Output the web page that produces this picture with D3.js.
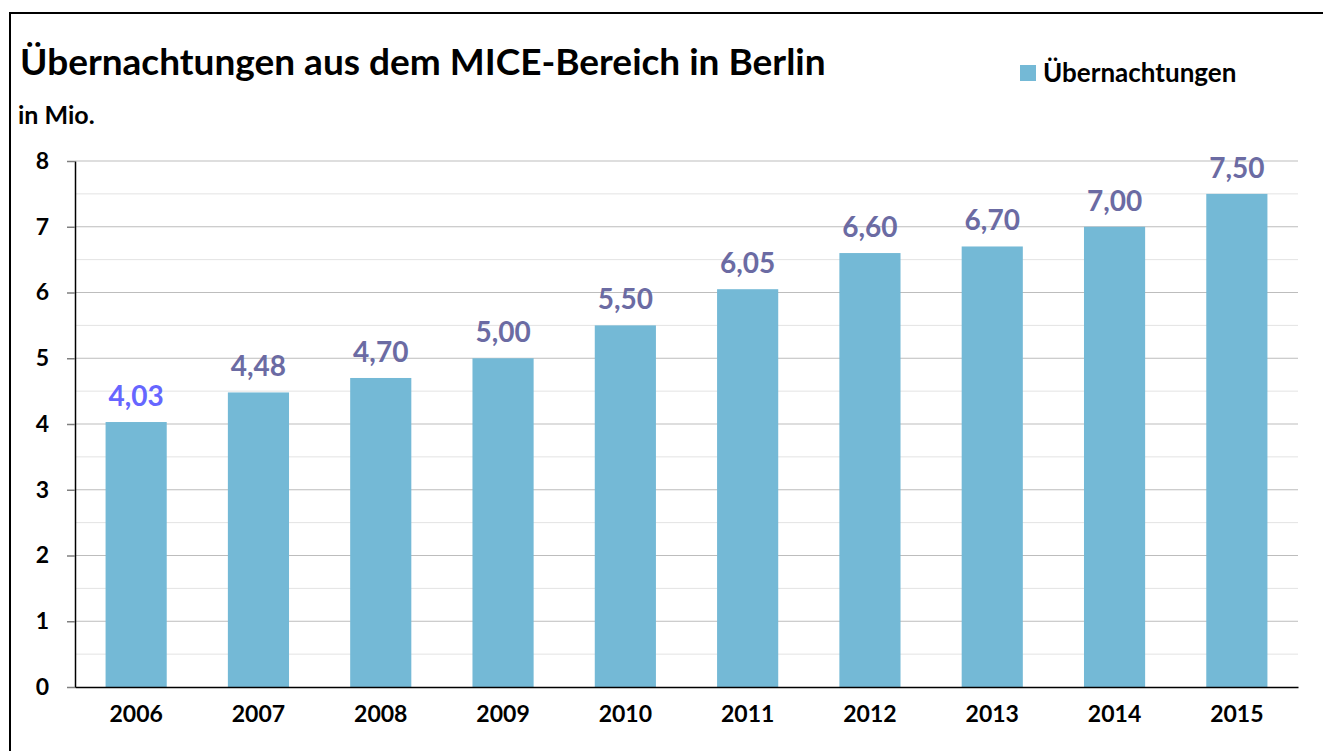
<!DOCTYPE html>
<html>
<head>
<meta charset="utf-8">
<script src="https://cdn.jsdelivr.net/npm/d3@7"></script>
<style>
  body { margin: 0; background: #fff; }
  text { font-family: Lato, "Open Sans", sans-serif; font-weight: bold; }
</style>
</head>
<body>
<div id="chart"></div>
<script>
const years = ["2006", "2007", "2008", "2009", "2010", "2011", "2012", "2013", "2014", "2015"];
const nights = [4.03, 4.48, 4.70, 5.00, 5.50, 6.05, 6.60, 6.70, 7.00, 7.50];
const labelColors = ["#6666ff", "#6b6ba3", "#6b6ba3", "#6b6ba3", "#6b6ba3", "#6b6ba3", "#6b6ba3", "#6b6ba3", "#6b6ba3", "#6b6ba3"];
const yTicks = [0, 1, 2, 3, 4, 5, 6, 7, 8];
const yMinor = [0.5, 1.5, 2.5, 3.5, 4.5, 5.5, 6.5, 7.5];

const size = { width: 1323, height: 751 };
const plot = { left: 75, right: 1298, top: 161, bottom: 687 };
const barColor = "#74b9d6";

const svg = d3.select("#chart")
    .append("svg")
    .attr("width", size.width)
    .attr("height", size.height);

// frame around the chart
svg.append("path")
   .attr("d", `M10,${size.height + 5}V13H${size.width + 5}`)
   .attr("fill", "none")
   .attr("stroke", "#000")
   .attr("stroke-width", 2);

const x = d3.scaleBand()
            .domain(years)
            .range([plot.left, plot.right])
            .paddingInner(0.5)
            .paddingOuter(0.25);

const y = d3.scaleLinear()
            .domain([0, 8])
            .range([plot.bottom, plot.top]);

// minor gridlines
svg.append("g")
   .selectAll("line")
   .data(yMinor)
   .join("line")
    .attr("x1", plot.left)
    .attr("x2", plot.right)
    .attr("y1", d => y(d))
    .attr("y2", d => y(d))
    .attr("stroke", "#e3e3e3")
    .attr("stroke-width", 1);

// major gridlines
svg.append("g")
   .selectAll("line")
   .data(yTicks.filter(d => d > 0))
   .join("line")
    .attr("x1", plot.left)
    .attr("x2", plot.right)
    .attr("y1", d => y(d))
    .attr("y2", d => y(d))
    .attr("stroke", "#bdbdbd")
    .attr("stroke-width", 1);

// bars
svg.append("g")
   .selectAll("rect")
   .data(years)
   .join("rect")
    .attr("x", d => x(d))
    .attr("width", x.bandwidth())
    .attr("y", (d, i) => y(nights[i]))
    .attr("height", (d, i) => y(0) - y(nights[i]))
    .attr("fill", barColor);

// y axis
const yAxis = svg.append("g")
   .attr("transform", `translate(${plot.left},0)`)
   .call(d3.axisLeft(y).tickValues(yTicks).tickSize(8).tickPadding(18).tickSizeOuter(0));
yAxis.select(".domain").attr("stroke", "#000").attr("stroke-width", 1.5);
yAxis.selectAll(".tick line").attr("stroke", "#7f7f7f").attr("stroke-width", 1.5);
yAxis.selectAll(".tick text")
     .attr("font-size", 23)
     .attr("font-family", "Lato, sans-serif")
     .attr("font-weight", "bold")
     .attr("fill", "#000");

// x axis
const xAxis = svg.append("g")
   .attr("transform", `translate(0,${plot.bottom})`)
   .call(d3.axisBottom(x).tickSize(0).tickPadding(19).tickSizeOuter(0));
xAxis.select(".domain").attr("stroke", "#000").attr("stroke-width", 1.5);
xAxis.selectAll(".tick text")
     .attr("font-size", 23)
     .attr("font-family", "Lato, sans-serif")
     .attr("font-weight", "bold")
     .attr("fill", "#000");

// value labels
svg.append("g")
   .attr("text-anchor", "middle")
   .attr("font-size", 28)
   .selectAll("text")
   .data(years)
   .join("text")
    .attr("x", d => x(d) + x.bandwidth() / 2)
    .attr("y", (d, i) => y(nights[i]) - 16)
    .attr("fill", (d, i) => labelColors[i])
    .text((d, i) => nights[i].toFixed(2).replace(".", ","));

// title and unit
svg.append("text")
   .attr("x", 20)
   .attr("y", 75)
   .attr("font-size", 37)
   .attr("fill", "#000")
   .text("Übernachtungen aus dem MICE-Bereich in Berlin");

svg.append("text")
   .attr("x", 18)
   .attr("y", 124)
   .attr("font-size", 25)
   .attr("fill", "#000")
   .text("in Mio.");

// legend
const legend = svg.append("g").attr("transform", "translate(1020,65)");
legend.append("rect")
      .attr("width", 16)
      .attr("height", 16)
      .attr("fill", barColor);
legend.append("text")
      .attr("x", 23)
      .attr("y", 17)
      .attr("font-size", 26)
      .attr("fill", "#000")
      .text("Übernachtungen");
</script>
</body>
</html>
